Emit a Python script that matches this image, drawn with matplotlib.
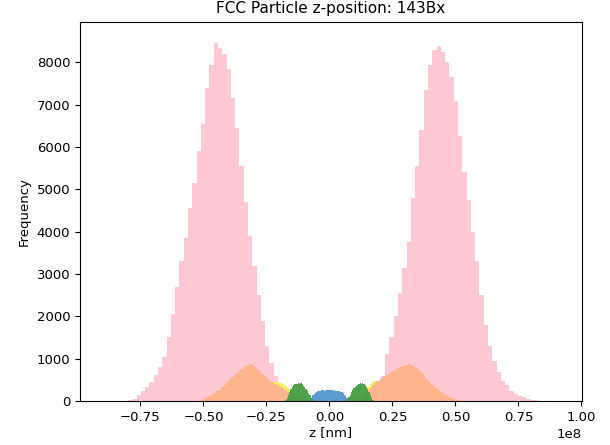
import numpy as np
import matplotlib
matplotlib.use("Agg")
import matplotlib.pyplot as plt
from matplotlib.ticker import MultipleLocator

# ---- data (z in units of 1e8 nm; counts per bin) ----
pink_start, pink_width = -0.85, 0.017
pink_counts = [0, 2, 8, 25, 50, 130, 230, 340, 450, 610,
               800, 1050, 1500, 2050, 2700, 3300, 3850, 4550, 5150, 5900,
               6550, 7400, 7950, 8470, 8350, 8200, 7850, 7150, 6450, 5550,
               4700, 3900, 3200, 2500, 1900, 1300, 900, 600, 380, 200,
               90, 40, 15, 5, 0, 0, 0, 0, 0, 0,
               0, 0, 0, 0, 0, 0, 5, 15, 40, 90,
               170, 320, 600, 1100, 1500, 2000, 2550, 3150, 3750, 4800,
               5550, 6400, 7350, 7950, 8300, 8400, 8250, 8000, 7650, 7100,
               6250, 5400, 4750, 4000, 3300, 2500, 1800, 1300, 950, 690,
               480, 370, 240, 170, 120, 85, 55, 30, 12, 4]

orange_left_start, orange_right_start, orange_width = -0.55, 0.0, 0.01
orange_left_counts = [0, 0, 2, 8, 25, 60, 90, 120, 150, 190,
                      230, 270, 320, 380, 440, 510, 560, 610, 660, 720,
                      760, 800, 830, 870, 850, 810, 760, 700, 640, 590,
                      540, 480, 440, 410, 370, 340, 300, 260, 210, 180,
                      150, 120, 90, 65, 45, 28, 15, 7, 3, 1,
                      0, 0, 0, 0, 0]
orange_right_counts = [0, 0, 0, 0, 0, 1, 4, 10, 22, 45,
                       70, 95, 120, 155, 200, 250, 310, 380, 440, 480,
                       520, 560, 600, 640, 680, 710, 740, 770, 800, 830,
                       850, 865, 850, 820, 780, 740, 680, 610, 530, 460,
                       410, 350, 300, 260, 210, 170, 130, 100, 75, 50,
                       30, 18, 8, 3, 0]

yellow_left_start, yellow_right_start, yellow_width = -0.30, 0.08, 0.01
yellow_left_counts = [40, 90, 140, 200, 250, 320, 380, 420, 450, 450, 430,
                      400, 360, 310, 260, 210, 160, 110, 70, 40, 20, 8]
yellow_right_counts = [8, 20, 40, 70, 110, 160, 250, 330, 390, 440, 470,
                       480, 480, 440, 410, 370, 320, 260, 200, 140, 90, 40]

green_start, green_width = -0.175, 0.005
green_counts = ([30, 80, 150, 220, 290, 340, 370, 390, 410, 400, 420, 410,
                 420, 390, 360, 320, 280, 230, 180, 130, 80, 40, 15]
                + [0] * 24
                + [5, 20, 50, 90, 150, 210, 260, 300, 330, 350, 380, 400,
                   420, 410, 420, 400, 370, 330, 280, 220, 150, 80, 30])

blue_start, blue_width = -0.0775, 0.005
blue_counts = [30, 80, 130, 170, 195, 215, 225, 240, 235, 250, 255,
               245, 260, 255, 265, 250, 260, 255, 245, 255, 240, 245,
               230, 225, 215, 200, 180, 150, 110, 70, 30]

SCALE = 1e8


def draw(ax, start, width, counts, color, alpha=1.0):
    counts = np.asarray(counts, dtype=float)
    edges = (start + width * np.arange(len(counts) + 1)) * SCALE
    centers = 0.5 * (edges[:-1] + edges[1:])
    ax.hist(centers, bins=edges, weights=counts, histtype="stepfilled",
            color=color, alpha=alpha, linewidth=0)


fig = plt.figure(figsize=(6.1, 4.45), dpi=100)
ax = fig.add_axes([0.131, 0.099, 0.823, 0.852])

draw(ax, pink_start, pink_width, pink_counts, "#FFC8D2")
draw(ax, yellow_left_start, yellow_width, yellow_left_counts, "#F4EE5A")
draw(ax, yellow_right_start, yellow_width, yellow_right_counts, "#F4EE5A")
draw(ax, orange_left_start, orange_width, orange_left_counts, "#FFB48E")
draw(ax, orange_right_start, orange_width, orange_right_counts, "#FFB48E")
draw(ax, blue_start, blue_width, blue_counts, "#5B9BCF")
draw(ax, green_start, green_width, green_counts, "#3E9B3E", alpha=0.92)

ax.set_xlim(-0.99e8, 1.002e8)
ax.set_ylim(0, 8960)
ax.yaxis.set_major_locator(MultipleLocator(1000))
ax.set_title("FCC Particle z-position: 143Bx", fontsize=11)
ax.set_xlabel("z [nm]", fontsize=9.5, labelpad=2)
ax.set_ylabel("Frequency", fontsize=9.5)
ax.tick_params(labelsize=9.5)
ax.xaxis.get_offset_text().set_fontsize(9.5)

fig.savefig("out.png", dpi=100)
